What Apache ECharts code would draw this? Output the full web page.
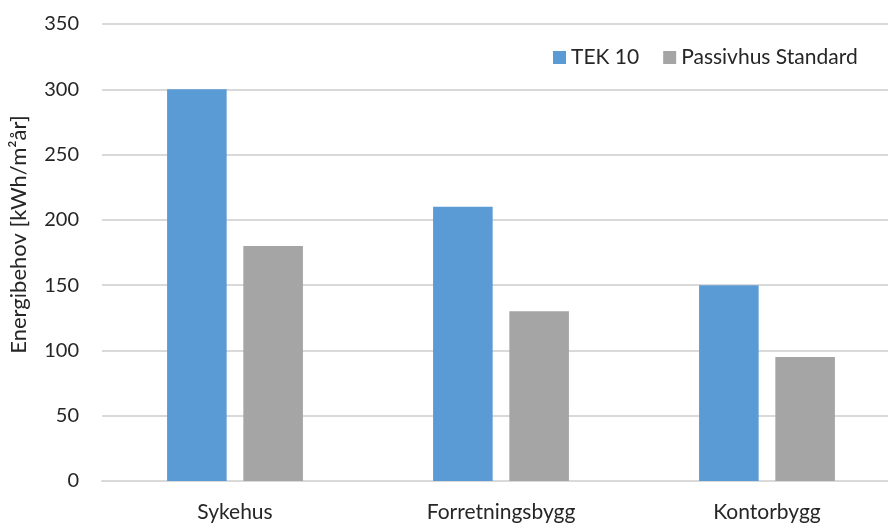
<!DOCTYPE html>
<html>
<head>
<meta charset="utf-8">
<script src="https://cdn.jsdelivr.net/npm/echarts@6/dist/echarts.min.js"></script>
<style>
  html, body { margin: 0; padding: 0; background: #ffffff; }
  #chart { width: 888px; height: 524px; }
</style>
</head>
<body>
<div id="chart"></div>
<script>
// Energy demand per building type, kWh/m²·year
const categories = ['Sykehus', 'Forretningsbygg', 'Kontorbygg'];
const tek10 = [300, 210, 150];
const passivhus = [180, 130, 95];
const seriesNames = ['TEK 10', 'Passivhus Standard'];
const axisTitle = 'Energibehov [kWh/m²år]';

const FONT = 'Lato';
const TEXT = '#262626';

const chart = echarts.init(document.getElementById('chart'), null, { renderer: 'canvas' });

chart.setOption({
  animation: false,
  backgroundColor: '#ffffff',
  textStyle: { fontFamily: FONT, color: TEXT },
  // plot area runs slightly past the right edge of the canvas
  grid: { left: 102, width: 798, top: 24, bottom: 43, containLabel: false, outerBoundsMode: 'none' },
  legend: {
    left: 548,
    top: 42,
    itemWidth: 13,
    itemHeight: 13,
    itemGap: 24,
    icon: 'rect',
    textStyle: { fontFamily: FONT, fontSize: 21, color: TEXT },
    data: seriesNames
  },
  xAxis: {
    type: 'category',
    data: categories,
    axisLine: { show: true, lineStyle: { color: '#D9D9D9', width: 2 } },
    axisTick: { show: false },
    axisLabel: { fontFamily: FONT, fontSize: 21, color: TEXT, margin: 21 }
  },
  yAxis: {
    type: 'value',
    min: 0,
    max: 350,
    interval: 50,
    name: axisTitle,
    nameLocation: 'middle',
    nameGap: 72,
    nameTextStyle: { fontFamily: FONT, fontSize: 22, color: TEXT, padding: [0, 0, 0, 36] },
    axisLine: { show: false },
    axisTick: { show: false },
    axisLabel: { fontFamily: FONT, fontSize: 20, color: TEXT, margin: 23 },
    splitLine: { lineStyle: { color: '#D9D9D9', width: 2 } }
  },
  series: [
    {
      name: seriesNames[0],
      type: 'bar',
      data: tek10,
      barWidth: '22.4%',
      barGap: '28%',
      itemStyle: { color: '#5B9BD5' }
    },
    {
      name: seriesNames[1],
      type: 'bar',
      data: passivhus,
      barWidth: '22.4%',
      barGap: '28%',
      itemStyle: { color: '#A5A5A5' }
    }
  ]
});
</script>
</body>
</html>
